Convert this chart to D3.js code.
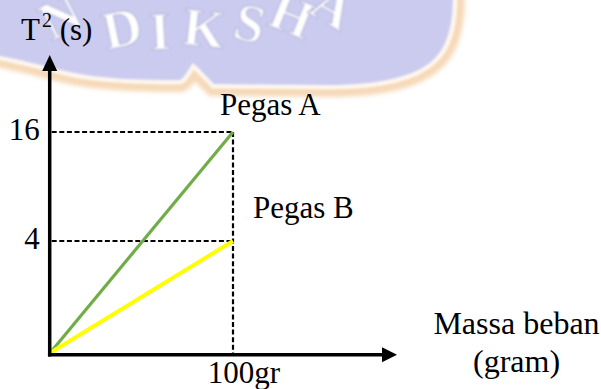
<!DOCTYPE html>
<html>
<head>
<meta charset="utf-8">
<script src="https://cdn.jsdelivr.net/npm/d3@7/dist/d3.min.js"></script>
<style>
  html, body { margin: 0; padding: 0; background: #fff; }
  svg { display: block; }
  text { font-family: "Liberation Serif", "Times New Roman", serif; fill: #000; }
</style>
</head>
<body>
<svg id="chart" width="601" height="389"></svg>
<script>
// Mass of the load (gram) and the squared period T^2 (s) for each spring
const springs = ["Pegas A", "Pegas B"];
const massValues = [0, 100];
const periodSqA = [0, 16];
const periodSqB = [0, 4];
const yTickValues = [4, 16];
const xTickValues = [100];
const xTickUnit = "gr";
const seriesColors = ["#70ad47", "#ffff00"];

const svg = d3.select("#chart");

// ---- background watermark (university logo band) ----
const defs = svg.append("defs");
defs.append("filter").attr("id", "soft")
  .attr("x", "-20%").attr("y", "-40%").attr("width", "140%").attr("height", "180%")
  .append("feGaussianBlur").attr("stdDeviation", 0.9);
defs.append("filter").attr("id", "softer")
  .attr("x", "-10%").attr("y", "-10%").attr("width", "120%").attr("height", "130%")
  .append("feGaussianBlur").attr("stdDeviation", 2.2);

const band = "M-20,-20 L452,-20 C455,15 450,45 433,60 C416,76 380,85 330,85 " +
  "L214,84 C206,76 199,68 193,63 C188,70 185,77 180,80 " +
  "C140,80 100,79 70,72 C40,65 15,58 -20,52 Z";

const wm = svg.append("g").attr("class", "watermark");
wm.append("path").attr("d", band)
  .attr("fill", "none").attr("stroke", "#f6d9b8").attr("stroke-width", 24)
  .attr("filter", "url(#softer)");
wm.append("path").attr("d", band)
  .attr("fill", "none").attr("stroke", "#fdf6ee").attr("stroke-width", 9)
  .attr("filter", "url(#soft)");
wm.append("path").attr("d", band)
  .attr("fill", "#cbcbf0").attr("filter", "url(#soft)");

const wmLetters = [
  { c: "N", x: 60, y: 16, r: -28 },
  { c: "D", x: 122, y: 28, r: -12 },
  { c: "I", x: 160, y: 31, r: -3 },
  { c: "K", x: 204, y: 28, r: 6 },
  { c: "S", x: 250, y: 23, r: 14 },
  { c: "H", x: 292, y: 15, r: 22 },
  { c: "A", x: 333, y: 6, r: 30 }
];
wm.append("g").attr("filter", "url(#soft)")
  .selectAll("text").data(wmLetters).join("text")
  .attr("transform", d => `translate(${d.x},${d.y}) rotate(${d.r})`)
  .attr("text-anchor", "middle").attr("dy", "0.34em")
  .attr("font-size", 54).attr("font-weight", 700)
  .style("font-family", "'Liberation Serif', serif")
  .style("fill", "#ffffff").style("stroke", "#b4b4da").style("stroke-width", 1.1)
  .text(d => d.c);

// ---- scales ----
const x = d3.scaleLinear().domain([0, 100]).range([50, 233]);
const y = d3.scaleLinear().domain([0, 4, 16]).range([353, 241, 132]);

const ink = "#000";
const axisX0 = x(0) - 0.3, axisY0 = y(0) + 1.7;

// ---- reference dashed guides ----
const guides = svg.append("g").attr("stroke", ink).attr("stroke-width", 2.2)
  .attr("stroke-dasharray", "5,2.6").attr("fill", "none");
[periodSqA, periodSqB].forEach(vals => {
  guides.append("line")
    .attr("x1", axisX0 + 2).attr("x2", x(massValues[1]))
    .attr("y1", y(vals[1])).attr("y2", y(vals[1]));
});
guides.append("line")
  .attr("x1", x(massValues[1])).attr("x2", x(massValues[1]))
  .attr("y1", y(d3.max(periodSqA))).attr("y2", axisY0);

// ---- data lines ----
const line = d3.line().x(d => x(d[0])).y(d => y(d[1]));
const series = [periodSqA, periodSqB].map((vals, i) => ({
  name: springs[i], color: seriesColors[i],
  pts: massValues.map((m, j) => [m, vals[j]])
}));
svg.append("g").selectAll("path").data(series).join("path")
  .attr("d", d => line(d.pts))
  .attr("fill", "none")
  .attr("stroke", d => d.color)
  .attr("stroke-width", (d, i) => i === 0 ? 3.2 : 4)
  .attr("stroke-linecap", "butt");

// ---- axes with arrow heads ----
const axes = svg.append("g");
axes.append("line")
  .attr("x1", axisX0).attr("x2", axisX0)
  .attr("y1", axisY0 + 1.75).attr("y2", 70)
  .attr("stroke", ink).attr("stroke-width", 3.5);
axes.append("path")
  .attr("d", `M${axisX0},55 L${axisX0 - 7.5},71 L${axisX0 + 7.5},71 Z`)
  .attr("fill", ink);
axes.append("line")
  .attr("x1", axisX0 - 1.75).attr("x2", 384)
  .attr("y1", axisY0).attr("y2", axisY0)
  .attr("stroke", ink).attr("stroke-width", 3.5);
axes.append("path")
  .attr("d", `M397,${axisY0} L382,${axisY0 - 7.5} L382,${axisY0 + 7.5} Z`)
  .attr("fill", ink);

// tick labels via d3 axes
const yAxis = svg.append("g").attr("transform", `translate(${axisX0},0)`)
  .call(d3.axisLeft(y).tickValues(yTickValues).tickSize(0).tickPadding(10));
yAxis.select(".domain").remove();
yAxis.selectAll("text").attr("dy", "0.24em")
  .style("font-size", "31px").style("font-family", "'Liberation Serif', serif").attr("fill", ink);

const xAxis = svg.append("g").attr("transform", `translate(0,${y(0)})`)
  .call(d3.axisBottom(x).tickValues(xTickValues).tickSize(0).tickPadding(8)
    .tickFormat(d => d + xTickUnit));
xAxis.select(".domain").remove();
xAxis.selectAll("text").attr("dx", 10.5)
  .style("font-size", "31px").style("font-family", "'Liberation Serif', serif").attr("fill", ink);

// ---- titles and series labels ----
const yTitle = svg.append("text").attr("x", 21).attr("y", 40).style("font-size", "31px");
yTitle.append("tspan").text("T");
yTitle.append("tspan").attr("dy", -13).attr("dx", 2).style("font-size", "20px").text("2");
yTitle.append("tspan").attr("dy", 13).text(" (s)");

svg.append("text").attr("x", 220).attr("y", 115).style("font-size", "31px").text(springs[0]);
svg.append("text").attr("x", 253).attr("y", 218).style("font-size", "31px").text(springs[1]);

svg.append("text").attr("x", 516.5).attr("y", 334).attr("text-anchor", "middle")
  .style("font-size", "32px").text("Massa beban");
svg.append("text").attr("x", 516.5).attr("y", 372).attr("text-anchor", "middle")
  .style("font-size", "32px").text("(gram)");
</script>
</body>
</html>
